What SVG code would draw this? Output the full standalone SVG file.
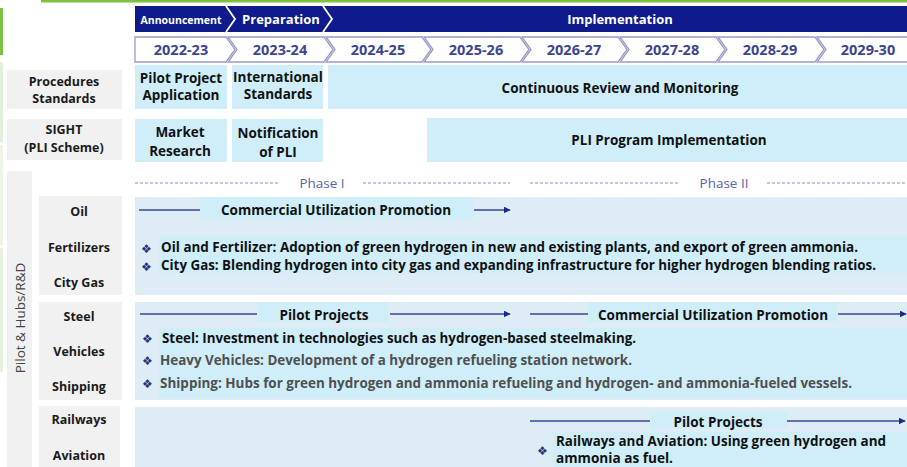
<svg xmlns="http://www.w3.org/2000/svg" width="907" height="467" viewBox="0 0 907 467">
  <defs>
    <marker id="arrow" viewBox="0 0 10 10" refX="9" refY="5" markerWidth="7" markerHeight="7" markerUnits="userSpaceOnUse" orient="auto">
      <path d="M0,0 L10,5 L0,10 z" fill="#1a2a8c"/>
    </marker>
    <style>
      text { font-family: "Open Sans", "Noto Sans", "Liberation Sans", sans-serif; }
      .hdr { fill: #ffffff; font-weight: 700; text-anchor: middle; }
      .year { fill: #3d4590; font-weight: 700; font-size: 14.5px; text-anchor: middle; }
      .chev { fill: #ffffff; stroke: #9a9cc8; stroke-width: 1.3; }
      .side { fill: #f1f1f1; }
      .lbl { fill: #1a1a1a; font-weight: 700; font-size: 12.5px; text-anchor: middle; }
      .cell { fill: #cfeefa; }
      .ctext { fill: #111111; font-weight: 700; font-size: 13.5px; text-anchor: middle; }
      .band { fill: #deecf6; }
      .hl { fill: #cfeefa; }
      .btxt { fill: #111111; font-weight: 700; font-size: 13.5px; }
      .gtxt { fill: #4f4f4f; font-weight: 700; font-size: 13.5px; }
      .bul { fill: #27327a; font-family: "DejaVu Sans", sans-serif; font-size: 12px; }
      .phase { fill: #5a62a8; font-size: 13.5px; text-anchor: middle; }
      .dash { stroke: #8a90c2; stroke-width: 1.2; stroke-dasharray: 3 2; fill: none; }
      .flow { stroke: #3a4796; stroke-width: 1.5; fill: none; }
    </style>
  </defs>

  <rect width="907" height="467" fill="#ffffff"/>

  <!-- page edge accents -->
  <rect x="41" y="0" width="866" height="2.5" fill="#7cc142"/>
  <rect x="0" y="8" width="3" height="47" fill="#7cc142"/>
  <rect x="0" y="62" width="3" height="80" fill="#e3efda"/>
  <rect x="0" y="145" width="3" height="100" fill="#eef5e8"/>
  <rect x="0" y="248" width="3" height="124" fill="#e6f0de"/>

  <!-- stage header -->
  <g id="stages">
    <rect x="135" y="6" width="772" height="26" fill="#0f1b8d"/>
    <polyline points="226,6 235,19 226,32" fill="none" stroke="#ffffff" stroke-width="1.8"/>
    <polyline points="323,6 332,19 323,32" fill="none" stroke="#ffffff" stroke-width="1.8"/>
    <text class="hdr" x="181" y="24" font-size="10.5">Announcement</text>
    <text class="hdr" x="281" y="24" font-size="13">Preparation</text>
    <text class="hdr" x="620" y="24" font-size="13">Implementation</text>
  </g>

  <!-- fiscal years -->
  <g id="years">
    <polygon class="chev" points="135,37 226,37 235,49.5 226,62 135,62"/>
    <polygon class="chev" points="228,37 324,37 333,49.5 324,62 228,62 237,49.5"/>
    <polygon class="chev" points="326,37 422,37 431,49.5 422,62 326,62 335,49.5"/>
    <polygon class="chev" points="424,37 520,37 529,49.5 520,62 424,62 433,49.5"/>
    <polygon class="chev" points="522,37 618,37 627,49.5 618,62 522,62 531,49.5"/>
    <polygon class="chev" points="620,37 716,37 725,49.5 716,62 620,62 629,49.5"/>
    <polygon class="chev" points="718,37 815,37 824,49.5 815,62 718,62 727,49.5"/>
    <polygon class="chev" points="817,37 908,37 908,62 817,62 826,49.5"/>
    <text class="year" x="181" y="55">2022-23</text>
    <text class="year" x="280" y="55">2023-24</text>
    <text class="year" x="378" y="55">2024-25</text>
    <text class="year" x="476" y="55">2025-26</text>
    <text class="year" x="574" y="55">2026-27</text>
    <text class="year" x="672" y="55">2027-28</text>
    <text class="year" x="770" y="55">2028-29</text>
    <text class="year" x="868" y="55">2029-30</text>
  </g>

  <!-- row: procedures / standards -->
  <g id="procedures">
    <rect class="side" x="7" y="70" width="115" height="39"/>
    <text class="lbl" x="64" y="86">Procedures</text>
    <text class="lbl" x="64" y="103">Standards</text>
  </g>
  <g id="pilot-application">
    <rect class="cell" x="135" y="65" width="92" height="44"/>
    <text class="ctext" x="181" y="83">Pilot Project</text>
    <text class="ctext" x="181" y="100">Application</text>
  </g>
  <g id="intl-standards">
    <rect class="cell" x="232" y="65" width="91" height="44"/>
    <text class="ctext" x="278" y="82">International</text>
    <text class="ctext" x="278" y="99">Standards</text>
  </g>
  <g id="review">
    <rect class="cell" x="328" y="65" width="579" height="44"/>
    <text class="ctext" x="620" y="93">Continuous Review and Monitoring</text>
  </g>

  <!-- row: SIGHT -->
  <g id="sight">
    <rect class="side" x="7" y="119" width="115" height="41"/>
    <text class="lbl" x="64" y="134">SIGHT</text>
    <text class="lbl" x="64" y="152">(PLI Scheme)</text>
  </g>
  <g id="market-research">
    <rect class="cell" x="135" y="119" width="92" height="43"/>
    <text class="ctext" x="180" y="137" font-size="14px">Market</text>
    <text class="ctext" x="180" y="156" font-size="14px">Research</text>
  </g>
  <g id="pli-notification">
    <rect class="cell" x="232" y="119" width="91" height="43"/>
    <text class="ctext" x="278" y="138" font-size="14px">Notification</text>
    <text class="ctext" x="278" y="157" font-size="14px">of PLI</text>
  </g>
  <g id="pli-implementation">
    <rect class="cell" x="427" y="118" width="480" height="44"/>
    <text class="ctext" x="669" y="145">PLI Program Implementation</text>
  </g>

  <!-- pilot & hubs column -->
  <g id="pilot-hubs">
    <rect class="side" x="7" y="171" width="25" height="296"/>
    <text x="25" y="318" transform="rotate(-90 25 318)" fill="#444444" font-size="13.5" text-anchor="middle">Pilot &amp; Hubs/R&amp;D</text>
  </g>

  <!-- phases -->
  <g id="phases">
    <line class="dash" x1="135" y1="183" x2="280" y2="183"/>
    <line class="dash" x1="363" y1="183" x2="510" y2="183"/>
    <line class="dash" x1="530" y1="183" x2="680" y2="183"/>
    <line class="dash" x1="767" y1="183" x2="907" y2="183"/>
    <text class="phase" x="322" y="188">Phase I</text>
    <text class="phase" x="724" y="188">Phase II</text>
  </g>

  <!-- sector group 1 -->
  <g id="sector-oil-gas">
    <rect class="side" x="39" y="196" width="83" height="99"/>
    <text class="lbl" x="79" y="216">Oil</text>
    <text class="lbl" x="79" y="252">Fertilizers</text>
    <text class="lbl" x="79" y="287">City Gas</text>
  </g>
  <g id="plan-oil-gas">
    <rect class="band" x="135" y="197" width="772" height="98"/>
    <rect class="hl" x="200" y="197" width="273" height="22"/>
    <text class="ctext" x="336" y="215">Commercial Utilization Promotion</text>
    <rect class="hl" x="159" y="236" width="748" height="37"/>
    <text class="bul" x="141" y="253">❖</text>
    <text class="btxt" x="161" y="252" textLength="697" lengthAdjust="spacingAndGlyphs">Oil and Fertilizer: Adoption of green hydrogen in new and existing plants, and export of green ammonia.</text>
    <text class="bul" x="141" y="271">❖</text>
    <text class="btxt" x="161" y="270" textLength="715" lengthAdjust="spacingAndGlyphs">City Gas: Blending hydrogen into city gas and expanding infrastructure for higher hydrogen blending ratios.</text>
  </g>

  <!-- sector group 2 -->
  <g id="sector-steel-transport">
    <rect class="side" x="39" y="302" width="83" height="98"/>
    <text class="lbl" x="79" y="321">Steel</text>
    <text class="lbl" x="79" y="356">Vehicles</text>
    <text class="lbl" x="79" y="391">Shipping</text>
  </g>
  <g id="plan-steel-transport">
    <rect class="band" x="135" y="302" width="772" height="98"/>
    <rect class="hl" x="258" y="302" width="130" height="20"/>
    <text class="ctext" x="324" y="320">Pilot Projects</text>
    <rect class="hl" x="588" y="302" width="249" height="20"/>
    <text class="ctext" x="713" y="320">Commercial Utilization Promotion</text>
    <rect class="hl" x="159" y="328" width="748" height="70"/>
    <text class="bul" x="142" y="343">❖</text>
    <text class="btxt" x="162" y="343" textLength="474" lengthAdjust="spacingAndGlyphs">Steel: Investment in technologies such as hydrogen-based steelmaking.</text>
    <text class="bul" x="142" y="365">❖</text>
    <text class="gtxt" x="160" y="365" textLength="472" lengthAdjust="spacingAndGlyphs">Heavy Vehicles: Development of a hydrogen refueling station network.</text>
    <text class="bul" x="142" y="388">❖</text>
    <text class="gtxt" x="160" y="388" textLength="692" lengthAdjust="spacingAndGlyphs">Shipping: Hubs for green hydrogen and ammonia refueling and hydrogen- and ammonia-fueled vessels.</text>
  </g>

  <!-- sector group 3 -->
  <g id="sector-rail-air">
    <rect class="side" x="39" y="406" width="81" height="61"/>
    <text class="lbl" x="79" y="424">Railways</text>
    <text class="lbl" x="79" y="460">Aviation</text>
  </g>
  <g id="plan-rail-air">
    <rect class="band" x="135" y="407" width="772" height="60"/>
    <rect class="hl" x="650" y="413" width="137" height="16"/>
    <text class="ctext" x="718" y="427">Pilot Projects</text>
    <rect class="hl" x="553" y="432" width="354" height="35"/>
    <text class="bul" x="537" y="455">❖</text>
    <text class="btxt" x="556" y="446" textLength="330" lengthAdjust="spacingAndGlyphs">Railways and Aviation: Using green hydrogen and</text>
    <text class="btxt" x="556" y="463" textLength="117" lengthAdjust="spacingAndGlyphs">ammonia as fuel.</text>
  </g>

  <!-- timeline connectors -->
  <g id="connectors">
    <line class="flow" x1="139" y1="210" x2="200" y2="210"/>
    <line class="flow" x1="474" y1="210" x2="510" y2="210" marker-end="url(#arrow)"/>
    <line class="flow" x1="140" y1="314" x2="257" y2="314"/>
    <line class="flow" x1="390" y1="314" x2="510" y2="314" marker-end="url(#arrow)"/>
    <line class="flow" x1="530" y1="314" x2="588" y2="314"/>
    <line class="flow" x1="838" y1="314" x2="906" y2="314" marker-end="url(#arrow)"/>
    <line class="flow" x1="530" y1="421" x2="650" y2="421"/>
    <line class="flow" x1="787" y1="421" x2="905" y2="421" marker-end="url(#arrow)"/>
  </g>
</svg>
